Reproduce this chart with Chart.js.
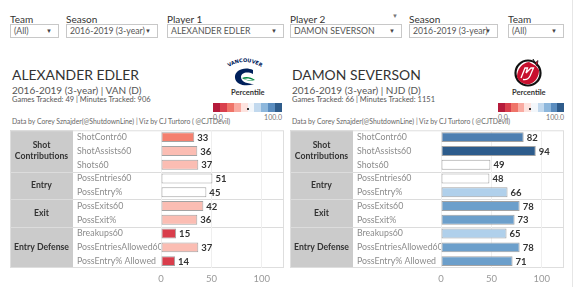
<!DOCTYPE html>
<html>
<head>
<meta charset="utf-8">
<script src="https://cdn.jsdelivr.net/npm/chart.js@4"></script>
<style>
  body { margin: 0; width: 575px; height: 287px; background: #fff; position: relative; overflow: hidden; font-family: Lato, "Open Sans", sans-serif; color: #333; }
  .abs { position: absolute; white-space: nowrap; }
  .flabel { font-size: 10px; color: #333; line-height: 10px; }
  .fbox { height: 12px; border: 1px solid #c8c8c8; font-size: 8.7px; color: #555; line-height: 12px; padding-left: 3px; box-sizing: content-box; }
  .fbox .arr { position: absolute; right: 6px; top: 0; font-size: 6px; color: #444; }
  .title { font-size: 13.9px; line-height: 14px; color: #333; }
  .sub { font-size: 10px; line-height: 11px; color: #555; }
  .games { font-size: 7.5px; line-height: 8px; color: #555; }
  .credit { font-size: 6.85px; line-height: 7px; color: #666; }
  .pct { font-size: 7.5px; line-height: 8px; font-weight: bold; color: #333; }
  .legend { display: flex; height: 9px; }
  .legend span { flex: 1; }
  .lg { font-size: 7px; line-height: 7px; color: #777; }
  canvas { position: absolute; }
  .edge { position: absolute; background: #e6e6e6; }
</style>
</head>
<body>
<div class="edge" style="left:572px;top:0;width:1px;height:287px"></div>

<!-- filters -->
<div class="abs flabel" style="left:10px;top:14px">Team</div>
<div class="abs fbox" style="left:10px;top:24px;width:44px">(All)<span class="arr">▼</span></div>
<div class="abs flabel" style="left:66px;top:14px">Season</div>
<div class="abs fbox" style="left:66px;top:24px;width:87px">2016-2019 (3-year)<span class="arr">▼</span></div>
<div class="abs flabel" style="left:167px;top:14px">Player 1</div>
<div class="abs fbox" style="left:167px;top:24px;width:112px">ALEXANDER EDLER<span class="arr">▼</span></div>

<div class="abs flabel" style="left:290px;top:14px">Player 2</div>
<div class="abs" style="left:392px;top:12px;font-size:6px;color:#777">▼</div>
<div class="abs fbox" style="left:290px;top:24px;width:107px">DAMON SEVERSON<span class="arr">▼</span></div>
<div class="abs flabel" style="left:409px;top:14px">Season</div>
<div class="abs fbox" style="left:409px;top:24px;width:84px">2016-2019 (3-year)<span class="arr">▼</span></div>
<div class="abs flabel" style="left:508px;top:14px">Team</div>
<div class="abs fbox" style="left:508px;top:24px;width:51px">(All)<span class="arr">▼</span></div>

<!-- headers -->
<div class="abs title" style="left:12px;top:68px" id="name1"></div>
<div class="abs sub" style="left:12px;top:85px" id="sub1"></div>
<div class="abs games" style="left:12px;top:96px" id="games1"></div>
<div class="abs credit" style="left:12px;top:118px" id="credit1"></div>

<div class="abs title" style="left:292px;top:68px" id="name2"></div>
<div class="abs sub" style="left:292px;top:85px" id="sub2"></div>
<div class="abs games" style="left:292px;top:96px" id="games2"></div>
<div class="abs credit" style="left:292px;top:118px" id="credit2"></div>

<!-- logos -->
<svg class="abs" style="left:225px;top:56px" width="40" height="32" viewBox="0 0 40 32">
  <defs><path id="arc" d="M1,13 Q20,-1 39,13"/></defs>
  <text font-size="5" font-weight="900" fill="#00205b" font-family="DejaVu Sans"><textPath href="#arc" startOffset="50%" text-anchor="middle">VANCOUVER</textPath></text>
  <path d="M28,14 C20,10 9,14 10,22 C11,29 21,31 29,28 C23,28 16,26 16,21 C16,17 22,15 28,18 Z" fill="#00205b"/>
  <path d="M17,22 C21,20 26,21 30,24 C26,25 21,25 17,22 Z" fill="#00843d"/>
  <path d="M18,23 C22,22 25,22.5 28,24 C24,24 21,24 18,23 Z" fill="#fff"/>
</svg>
<svg class="abs" style="left:512px;top:57px" width="32" height="31" viewBox="0 0 32 31">
  <circle cx="16" cy="16" r="12.5" fill="#fff" stroke="#111" stroke-width="2.2"/>
  <path d="M21,2 L23,6 L26,3.5 L25,9 Z" fill="#c8102e" stroke="#111" stroke-width="0.7"/>
  <path d="M5,20 C5,12 10,6 17,5 L24,9 L27,13 C27,19 24,25 18,27 C12,28 7,25 5,20 Z" fill="#c8102e"/>
  <path d="M9,21 L13,11 L15.5,11 L14,16 L19,11 L21.5,11 L18,19 C16.5,22 13.5,23 11,22.5" fill="none" stroke="#fff" stroke-width="1.3"/>
</svg>

<div class="abs pct" style="left:231px;top:89px">Percentile</div>
<div class="abs legend" id="legend1" style="left:213px;top:103px;width:69px"></div>
<div class="abs" style="left:247px;top:108px;width:2px;height:2px;background:#333"></div>
<div class="abs lg" style="left:213px;top:114px">0.0</div>
<div class="abs lg" style="left:263px;top:114px;width:19px;text-align:right">100.0</div>

<div class="abs pct" style="left:512px;top:89px">Percentile</div>
<div class="abs legend" id="legend2" style="left:498px;top:103px;width:66px"></div>
<div class="abs" style="left:529px;top:108px;width:2px;height:2px;background:#333"></div>
<div class="abs lg" style="left:498px;top:114px">0.0</div>
<div class="abs lg" style="left:545px;top:114px;width:19px;text-align:right">100.0</div>

<canvas id="chart1" width="274" height="162" style="left:10px;top:125px"></canvas>
<canvas id="chart2" width="274" height="162" style="left:290px;top:125px"></canvas>

<script>
// --- DATA ---
const metrics = ['ShotContr60', 'ShotAssists60', 'Shots60', 'PossEntries60', 'PossEntry%',
  'PossExits60', 'PossExit%', 'Breakups60', 'PossEntriesAllowed60', 'PossEntry% Allowed'];
const groupNames = [['Shot', 'Contributions'], ['Entry'], ['Exit'], ['Entry Defense']];
const groupSizes = [3, 2, 2, 3];
const edlerValues = [33, 36, 37, 51, 45, 42, 36, 15, 37, 14];
const seversonValues = [82, 94, 49, 48, 66, 78, 73, 65, 78, 71];
const axisTicks = [0, 50, 100];

const playerNames = ['ALEXANDER EDLER', 'DAMON SEVERSON'];
const playerTeams = ['VAN (D)', 'NJD (D)'];
const gamesTracked = [49, 66];
const minutesTracked = [906, 1151];
const seasonLabel = '2016-2019 (3-year)';
const creditText = 'Data by Corey Sznajder(@ShutdownLine) | Viz by CJ Turtoro ( @CJTDevil)';

// --- STYLE ---
const legendColors = ['#b51b3b', '#d9404d', '#ef7469', '#f9aba2', '#fde3df', '#f3f7fb', '#c2d9ee', '#8db7dc', '#5b8dbf', '#2f5c8b'];

const percentileColor = (v) => {
  if (v < 20) return '#d93d4b';
  if (v < 35) return '#f4806f';
  if (v < 44) return '#fbbdb3';
  if (v < 60) return '#ffffff';
  if (v < 70) return '#b0d0eb';
  if (v < 80) return '#6c9fcb';
  if (v < 90) return '#4e7fb1';
  return '#2d5c8c';
};

// --- HEADERS ---
[0, 1].forEach(i => {
  const n = i + 1;
  document.getElementById('name' + n).textContent = playerNames[i];
  document.getElementById('sub' + n).textContent = `${seasonLabel} | ${playerTeams[i]}`;
  document.getElementById('games' + n).textContent = `Games Tracked: ${gamesTracked[i]}  | Minutes Tracked: ${minutesTracked[i]}`;
  document.getElementById('credit' + n).textContent = creditText;
  const lg = document.getElementById('legend' + n);
  legendColors.forEach(c => {
    const s = document.createElement('span');
    s.style.background = c;
    lg.appendChild(s);
  });
});

// --- CHART PLUGINS ---
const tablePlugin = {
  id: 'tableDecor',
  beforeDraw(chart) {
    const { ctx, chartArea, scales } = chart;
    const y = scales.y;
    const step = y.getPixelForValue(1) - y.getPixelForValue(0);
    const top = chartArea.top, bottom = chartArea.bottom;
    ctx.save();
    ctx.fillStyle = '#cbcbcb';
    ctx.fillRect(0, top, 63, bottom - top);
    ctx.strokeStyle = '#dedede';
    ctx.lineWidth = 1;
    ctx.strokeRect(0.5, top + 0.5, chart.width - 1, bottom - top - 1);
    // group separators
    let idx = 0;
    groupSizes.forEach((size, g) => {
      const gTop = y.getPixelForValue(idx) - step / 2;
      const gBottom = y.getPixelForValue(idx + size - 1) + step / 2;
      if (g > 0) {
        ctx.strokeStyle = '#dcdcdc';
        ctx.beginPath();
        ctx.moveTo(0, Math.round(gTop) + 0.5);
        ctx.lineTo(chart.width, Math.round(gTop) + 0.5);
        ctx.stroke();
      }
      ctx.fillStyle = '#333';
      ctx.font = 'bold 8.7px Lato, sans-serif';
      ctx.textAlign = 'center';
      ctx.textBaseline = 'middle';
      const lines = groupNames[g];
      const mid = (gTop + gBottom) / 2;
      lines.forEach((t, k) => {
        ctx.fillText(t, 31.5, mid + (k - (lines.length - 1) / 2) * 11);
      });
      idx += size;
    });
    ctx.restore();
  }
};

const valueLabelPlugin = {
  id: 'valueLabels',
  afterDatasetsDraw(chart) {
    const { ctx } = chart;
    const values = chart.data.datasets[0].data;
    ctx.save();
    ctx.fillStyle = '#333';
    ctx.font = 'bold 9.5px Lato, sans-serif';
    ctx.textAlign = 'left';
    ctx.textBaseline = 'middle';
    chart.getDatasetMeta(0).data.forEach((bar, i) => {
      ctx.fillText(values[i], bar.x + 3, bar.y + 0.5);
    });
    ctx.restore();
  }
};

const makeChart = (canvasId, values) => new Chart(document.getElementById(canvasId), {
  type: 'bar',
  data: {
    labels: metrics,
    datasets: [{
      data: values,
      backgroundColor: values.map(percentileColor),
      borderColor: '#a3a3a3',
      borderWidth: 1,
      borderSkipped: false,
      barPercentage: 0.72,
      categoryPercentage: 1.0
    }]
  },
  options: {
    indexAxis: 'y',
    responsive: false,
    animation: false,
    devicePixelRatio: 1,
    layout: { padding: { left: 67, top: 3, right: 0, bottom: 0 } },
    plugins: { legend: { display: false }, tooltip: { enabled: false } },
    scales: {
      y: {
        type: 'category',
        afterFit: s => { s.width = 84; },
        grid: { display: false },
        border: { display: false },
        ticks: { crossAlign: 'far', padding: 0, color: '#8c8c8c', font: { family: 'Lato, sans-serif', size: 8.8 } }
      },
      x: {
        min: 0,
        max: 122,
        afterFit: s => { s.height = 19; },
        afterBuildTicks: s => { s.ticks = axisTicks.map(v => ({ value: v })); },
        grid: { color: '#efefef', drawTicks: false },
        border: { display: false },
        ticks: { padding: 5, color: '#999', font: { family: 'Lato, sans-serif', size: 9.5 } }
      }
    }
  },
  plugins: [tablePlugin, valueLabelPlugin]
});

makeChart('chart1', edlerValues);
makeChart('chart2', seversonValues);
</script>
</body>
</html>
